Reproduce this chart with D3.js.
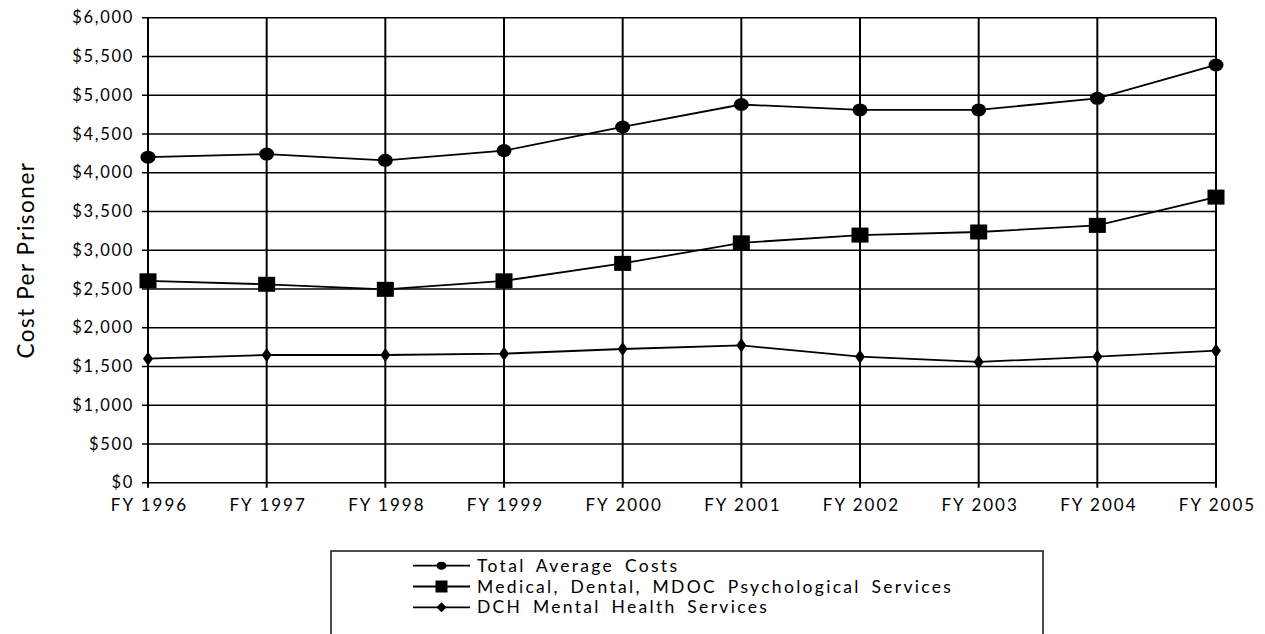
<!DOCTYPE html>
<html>
<head>
<meta charset="utf-8">
<script src="https://cdn.jsdelivr.net/npm/d3@7"></script>
<style>
  body { margin: 0; background: #fff; }
  svg text { font-family: Lato, "Open Sans", sans-serif; fill: #000; }
</style>
</head>
<body>
<div id="chart"></div>
<script>
// DATA --------------------------------------------------------------------
var years = ["FY 1996", "FY 1997", "FY 1998", "FY 1999", "FY 2000",
             "FY 2001", "FY 2002", "FY 2003", "FY 2004", "FY 2005"];
var totalCosts   = [4200, 4240, 4160, 4285, 4590, 4880, 4810, 4810, 4960, 5390];
var medicalCosts = [2605, 2560, 2495, 2605, 2830, 3095, 3195, 3235, 3320, 3685];
var dchCosts     = [1600, 1648, 1648, 1665, 1725, 1772, 1626, 1558, 1626, 1703];
var yTicks = [0, 500, 1000, 1500, 2000, 2500, 3000, 3500, 4000, 4500, 5000, 5500, 6000];
var seriesNames = ["Total Average Costs",
                   "Medical, Dental, MDOC Psychological Services",
                   "DCH Mental Health Services"];

// SIZE --------------------------------------------------------------------
var W = 1265, H = 634;
var margin = {top: 17.7, left: 148, right: 49, bottom: 151.3};
var width = W - margin.left - margin.right,
    height = H - margin.top - margin.bottom;

var svg = d3.select("#chart").append("svg")
  .attr("width", W)
  .attr("height", H);

var g = svg.append("g")
  .attr("transform", "translate(" + margin.left + "," + margin.top + ")");

var x = d3.scalePoint().domain(years).range([0, width]).padding(0);
var y = d3.scaleLinear().domain([0, 6000]).range([height, 0]);

// grid lines
g.append("g")
  .selectAll("line.h")
  .data(yTicks)
  .enter().append("line")
  .attr("x1", -6).attr("x2", width)
  .attr("y1", function(d) { return y(d); })
  .attr("y2", function(d) { return y(d); })
  .style("stroke", "#000")
  .style("stroke-width", 1.6);

g.append("g")
  .selectAll("line.v")
  .data(years)
  .enter().append("line")
  .attr("x1", function(d) { return x(d); })
  .attr("x2", function(d) { return x(d); })
  .attr("y1", 0).attr("y2", height + 5)
  .style("stroke", "#000")
  .style("stroke-width", 2);

// y axis labels
var yAxis = d3.axisLeft(y)
  .tickValues(yTicks)
  .tickSize(0)
  .tickPadding(14)
  .tickFormat(function(d) { return "$" + d3.format(",")(d); });

g.append("g").call(yAxis)
  .call(function(s) { s.select(".domain").remove(); })
  .selectAll("text")
  .style("font-size", "16.5px")
  .style("letter-spacing", "1.7px");

// x axis labels
var xAxis = d3.axisBottom(x).tickSize(0).tickPadding(16);
g.append("g")
  .attr("transform", "translate(0," + height + ")")
  .call(xAxis)
  .call(function(s) { s.select(".domain").remove(); })
  .selectAll("text")
  .attr("dx", "1px")
  .style("font-size", "17px")
  .style("letter-spacing", "2px");

// y title
svg.append("text")
  .attr("transform", "translate(34,260) rotate(-90)")
  .attr("text-anchor", "middle")
  .style("font-size", "22.5px")
  .style("letter-spacing", "1.5px")
  .text("Cost Per Prisoner");

// lines
var line = d3.line()
  .x(function(d, i) { return x(years[i]); })
  .y(function(d) { return y(d); });

var allSeries = [totalCosts, medicalCosts, dchCosts];
var symbols = [
  function(sel) { sel.append("ellipse").attr("rx", 7.5).attr("ry", 6.5); },
  function(sel) { sel.append("rect").attr("x", -8.5).attr("y", -7.5).attr("width", 17).attr("height", 15); },
  function(sel) { sel.append("path").attr("d", "M0,-7L5,0L0,7L-5,0Z"); }
];

allSeries.forEach(function(vals, k) {
  g.append("path")
    .datum(vals)
    .attr("d", line)
    .style("fill", "none")
    .style("stroke", "#000")
    .style("stroke-width", 1.8);

  g.selectAll("g.m" + k)
    .data(vals)
    .enter().append("g")
    .attr("class", "m" + k)
    .attr("transform", function(d, i) { return "translate(" + x(years[i]) + "," + y(d) + ")"; })
    .call(symbols[k])
    .selectAll("*")
    .style("fill", "#000");
});

// legend
var legend = svg.append("g").attr("transform", "translate(331,551)");
legend.append("rect")
  .attr("width", 712).attr("height", 100)
  .style("fill", "none")
  .style("stroke", "#222")
  .style("stroke-width", 1.6);

var miniSymbols = [
  function(sel) { sel.append("ellipse").attr("rx", 5).attr("ry", 4); },
  function(sel) { sel.append("rect").attr("x", -6).attr("y", -6).attr("width", 12).attr("height", 12); },
  function(sel) { sel.append("path").attr("d", "M0,-5L5,0L0,5L-5,0Z"); }
];

seriesNames.forEach(function(name, k) {
  var row = legend.append("g").attr("transform", "translate(0," + (14.7 + k * 20.8) + ")");
  row.append("line")
    .attr("x1", 82).attr("x2", 139)
    .style("stroke", "#000").style("stroke-width", 1.8);
  row.append("g").attr("transform", "translate(110.5,0)")
    .call(miniSymbols[k])
    .selectAll("*").style("fill", "#000");
  row.append("text")
    .attr("x", 146).attr("dy", "0.35em")
    .style("font-size", "17.5px")
    .style("letter-spacing", "2.3px")
    .style("word-spacing", "4px")
    .text(name);
});
</script>
</body>
</html>
